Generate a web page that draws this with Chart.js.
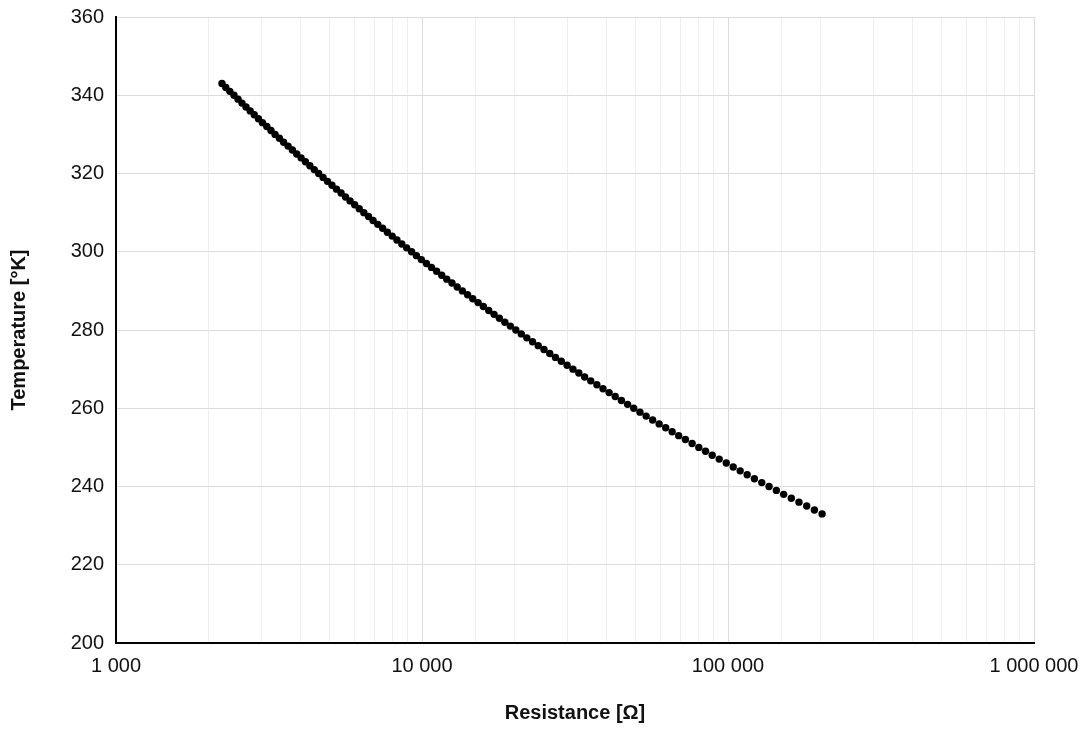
<!DOCTYPE html>
<html>
<head>
<meta charset="utf-8">
<script src="https://cdn.jsdelivr.net/npm/chart.js@4/dist/chart.umd.min.js"></script>
<style>
  body { margin: 0; background: #fff; }
  #wrap { width: 1080px; height: 729px; }
</style>
</head>
<body>
<div id="wrap"><canvas id="chart" width="1080" height="729"></canvas></div>
<script>
// Thermistor curve (one point per kelvin)
const temperatures = [
  233, 234, 235, 236, 237, 238, 239, 240, 241, 242,
  243, 244, 245, 246, 247, 248, 249, 250, 251, 252,
  253, 254, 255, 256, 257, 258, 259, 260, 261, 262,
  263, 264, 265, 266, 267, 268, 269, 270, 271, 272,
  273, 274, 275, 276, 277, 278, 279, 280, 281, 282,
  283, 284, 285, 286, 287, 288, 289, 290, 291, 292,
  293, 294, 295, 296, 297, 298, 299, 300, 301, 302,
  303, 304, 305, 306, 307, 308, 309, 310, 311, 312,
  313, 314, 315, 316, 317, 318, 319, 320, 321, 322,
  323, 324, 325, 326, 327, 328, 329, 330, 331, 332,
  333, 334, 335, 336, 337, 338, 339, 340, 341, 342,
  343
];
const resistances = [
  203000, 191600, 180800, 170600, 161000, 152000, 143900, 136200, 128900, 122000,
  115500, 109600, 104000, 98700, 93600, 88800, 84430, 80280, 76330, 72570,
  69000, 65700, 62550, 59560, 56710, 54000, 51550, 49200, 46970, 44840,
  42800, 40870, 39040, 37280, 35600, 34000, 32540, 31140, 29800, 28520,
  27300, 26150, 25040, 23980, 22970, 22000, 21110, 20260, 19440, 18650,
  17900, 17200, 16520, 15870, 15250, 14650, 14090, 13550, 13030, 12530,
  12050, 11600, 11160, 10740, 10340, 9950, 9590, 9245, 8910, 8590,
  8280, 7990, 7705, 7435, 7170, 6920, 6685, 6455, 6235, 6025,
  5820, 5625, 5440, 5255, 5080, 4910, 4750, 4595, 4445, 4300,
  4160, 4025, 3895, 3770, 3650, 3530, 3420, 3310, 3210, 3110,
  3010, 2920, 2830, 2745, 2660, 2580, 2505, 2430, 2355, 2285,
  2220
];
const xRange = [1000, 1000000];
const yRange = [200, 360];
const yStep = 20;
const xTitle = 'Resistance [Ω]';
const yTitle = 'Temperature [°K]';

const FONT = "'Liberation Sans', Arial, Helvetica, sans-serif";

function isDecade(v) {
  const l = Math.log10(v);
  return Math.abs(l - Math.round(l)) < 1e-9;
}

function spaced(v) {
  return String(Math.round(v)).replace(/\B(?=(\d{3})+(?!\d))/g, ' ');
}

const points = resistances.map((r, i) => ({ x: r, y: temperatures[i] }));

new Chart(document.getElementById('chart'), {
  type: 'scatter',
  data: {
    datasets: [{
      data: points,
      backgroundColor: '#000',
      borderColor: '#000',
      borderWidth: 0,
      pointRadius: 3.7,
      pointHoverRadius: 3.7,
      showLine: false
    }]
  },
  options: {
    responsive: false,
    animation: false,
    layout: { padding: { top: 17, right: 46, bottom: 0, left: 0 } },
    plugins: {
      legend: { display: false },
      tooltip: { enabled: false }
    },
    scales: {
      x: {
        type: 'logarithmic',
        min: xRange[0],
        max: xRange[1],
        afterFit: s => {
          s.height = 86;
          s.paddingLeft = 0;
          s.paddingRight = 0;
        },
        border: { color: '#000', width: 2 },
        grid: {
          drawTicks: false,
          color: ctx => isDecade(ctx.tick.value) ? '#dcdcdc' : '#efefef',
          lineWidth: 1
        },
        ticks: {
          autoSkip: false,
          maxRotation: 0,
          padding: 11,
          color: '#111',
          font: { family: FONT, size: 20 },
          callback: v => isDecade(v) ? spaced(v) : ''
        },
        title: {
          display: true,
          text: xTitle,
          color: '#111',
          font: { family: FONT, size: 20, weight: 'bold' },
          padding: { top: 0, bottom: 4 }
        }
      },
      y: {
        min: yRange[0],
        max: yRange[1],
        afterFit: s => {
          s.width = 116;
          s.paddingTop = 0;
          s.paddingBottom = 0;
        },
        border: { color: '#000', width: 2 },
        grid: { drawTicks: false, color: '#dcdcdc', lineWidth: 1 },
        ticks: {
          stepSize: yStep,
          padding: 12,
          color: '#111',
          font: { family: FONT, size: 20 }
        },
        title: {
          display: true,
          text: yTitle,
          color: '#111',
          font: { family: FONT, size: 20, weight: 'bold' },
          padding: { top: 7, bottom: 0 }
        }
      }
    }
  }
});
</script>
</body>
</html>
